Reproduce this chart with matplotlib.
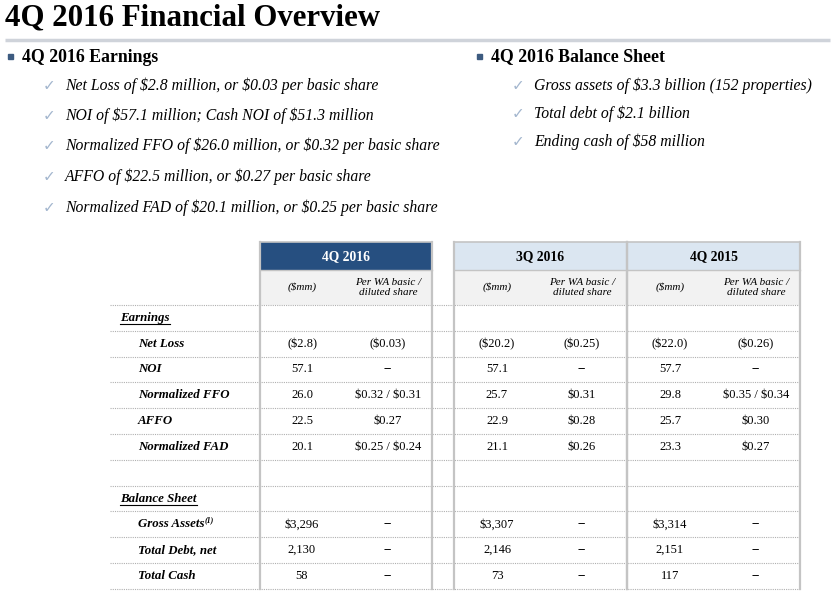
import matplotlib
matplotlib.use("Agg")
import matplotlib.pyplot as plt
from matplotlib.patches import Rectangle

# -----------------------------
# Slide text
# -----------------------------
title = "4Q 2016 Financial Overview"

earnings_head = "4Q 2016 Earnings"
earnings_items = [
    "Net Loss of $2.8 million, or $0.03 per basic share",
    "NOI of $57.1 million; Cash NOI of $51.3 million",
    "Normalized FFO of $26.0 million, or $0.32 per basic share",
    "AFFO of $22.5 million, or $0.27 per basic share",
    "Normalized FAD of $20.1 million, or $0.25 per basic share",
]

balance_head = "4Q 2016 Balance Sheet"
balance_items = [
    "Gross assets of $3.3 billion (152 properties)",
    "Total debt of $2.1 billion",
    "Ending cash of $58 million",
]

# -----------------------------
# Table data
# -----------------------------
periods = ["4Q 2016", "3Q 2016", "4Q 2015"]
sub_heads = ["($mm)", "Per WA basic /\ndiluted share"]

earnings_rows = ["Net Loss", "NOI", "Normalized FFO", "AFFO", "Normalized FAD"]
balance_rows = ["Gross Assets", "Total Debt, net", "Total Cash"]

q4_2016_mm = ["($2.8)", "57.1", "26.0", "22.5", "20.1", "$3,296", "2,130", "58"]
q4_2016_ps = ["($0.03)", "--", "$0.32 / $0.31", "$0.27", "$0.25 / $0.24", "--", "--", "--"]
q3_2016_mm = ["($20.2)", "57.1", "25.7", "22.9", "21.1", "$3,307", "2,146", "73"]
q3_2016_ps = ["($0.25)", "--", "$0.31", "$0.28", "$0.26", "--", "--", "--"]
q4_2015_mm = ["($22.0)", "57.7", "29.8", "25.7", "23.3", "$3,314", "2,151", "117"]
q4_2015_ps = ["($0.26)", "--", "$0.35 / $0.34", "$0.30", "$0.27", "--", "--", "--"]

columns = [q4_2016_mm, q4_2016_ps, q3_2016_mm, q3_2016_ps, q4_2015_mm, q4_2015_ps]

# -----------------------------
# Canvas (pixel coordinates)
# -----------------------------
W, H = 831, 603
fig = plt.figure(figsize=(W / 100, H / 100), dpi=100)
ax = fig.add_axes([0, 0, 1, 1])
ax.set_xlim(0, W)
ax.set_ylim(H, 0)
ax.axis("off")

SERIF = ["Liberation Serif", "DejaVu Serif"]
CHECK = ["DejaVu Sans"]
NAVY = "#264f80"
GRID = "#c4c4c4"


def txt(x, y, s, **kw):
    kw.setdefault("family", SERIF)
    kw.setdefault("va", "center")
    return ax.text(x, y, s, parse_math=False, **kw)


# title and rule
txt(5, 18, title, fontsize=22.2, fontweight="bold")
ax.plot([5, 830], [40, 40], color="#cfd3da", lw=2.5, solid_capstyle="butt")


def bullet_block(x0, head, items, y_items):
    ax.add_patch(Rectangle((x0, 54), 5, 5, color="#3d5b80"))
    txt(x0 + 14, 57, head, fontsize=12.8, fontweight="bold")
    for s, y in zip(items, y_items):
        txt(x0 + 35, y, "\u2713", fontsize=11, color="#a3b6ce", family=CHECK)
        txt(x0 + 57, y, s, fontsize=11.35, style="italic")


bullet_block(8, earnings_head, earnings_items, [86, 116, 146, 177, 208])
bullet_block(477, balance_head, balance_items, [86, 114, 142])

# -----------------------------
# Table
# -----------------------------
blocks = [(260, 432), (454, 627), (627, 800)]
col_x = [302, 388, 497, 582, 670, 756]
top, mid, sub_bot = 242, 270, 305
row_h = 25.8
n_rows = 11
bottom = sub_bot + row_h * n_rows

for i, (x0, x1) in enumerate(blocks):
    head_col = NAVY if i == 0 else "#dbe6f1"
    ax.add_patch(Rectangle((x0, top), x1 - x0, mid - top, color=head_col, lw=0))
    ax.add_patch(Rectangle((x0, mid), x1 - x0, sub_bot - mid, color="#f2f2f2", lw=0))
    txt((x0 + x1) / 2, (top + mid) / 2 + 1, periods[i], fontsize=9.8,
        fontweight="bold", ha="center", color="white" if i == 0 else "black")
    for j, s in enumerate(sub_heads):
        txt(col_x[2 * i + j], (mid + sub_bot) / 2, s, fontsize=8,
            style="italic", ha="center", linespacing=1.25)

# dotted row lines
for k in range(n_rows + 1):
    y = sub_bot + row_h * k
    ax.plot([110, 800], [y, y], color="#b0b0b0", lw=0.8,
            linestyle=(0, (1, 1)))

# block borders
for x0, x1 in blocks:
    ax.plot([x0, x0], [top, bottom], color=GRID, lw=1.6)
    ax.plot([x1, x1], [top, bottom], color=GRID, lw=1.6)
    ax.plot([x0, x1], [top, top], color=GRID, lw=1.2)
    ax.plot([x0, x1], [mid, mid], color=GRID, lw=1.0)

fig.canvas.draw()
renderer = fig.canvas.get_renderer()
inv = ax.transData.inverted()


def row_center(r):
    return sub_bot + row_h * (r + 0.5)


def section_label(r, s):
    t = txt(120, row_center(r), s, fontsize=9.3, fontweight="bold",
            style="italic")
    bb = t.get_window_extent(renderer)
    (xa, _), (xb, _) = inv.transform([(bb.x0, bb.y0), (bb.x1, bb.y0)])
    ax.plot([xa, xb], [row_center(r) + 6.5] * 2, color="black", lw=0.8)


section_label(0, "Earnings")
section_label(7, "Balance Sheet")

label_rows = list(range(1, 6)) + list(range(8, 11))
for r, name in zip(label_rows, earnings_rows + balance_rows):
    t = txt(138, row_center(r), name, fontsize=9.3, fontweight="bold",
            style="italic")
    if name == "Gross Assets":
        bb = t.get_window_extent(renderer)
        xe = inv.transform([(bb.x1, bb.y0)])[0][0]
        txt(xe + 0.5, row_center(r) - 4, "(1)", fontsize=5.8,
            fontweight="bold", style="italic")

for cx, vals in zip(col_x, columns):
    for r, v in zip(label_rows, vals):
        txt(cx, row_center(r), v, fontsize=9, ha="center")

fig.savefig("out.png", dpi=100)
